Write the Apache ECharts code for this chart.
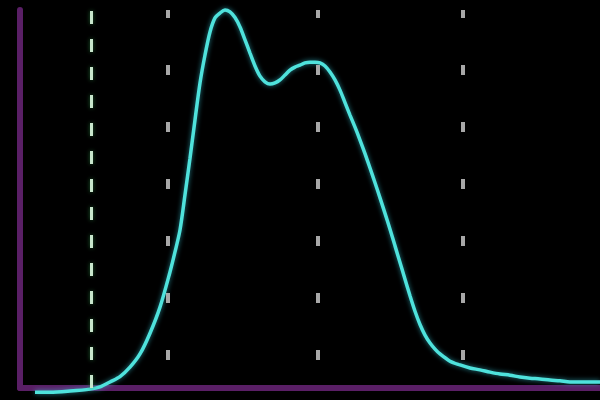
<!DOCTYPE html>
<html>
<head>
<meta charset="utf-8">
<script src="https://cdn.jsdelivr.net/npm/echarts@6/dist/echarts.min.js"></script>
<style>html,body{margin:0;padding:0;background:#000;}#c{width:600px;height:400px;}</style>
</head>
<body>
<div id="c"></div>
<script>
// x positions (bins) and curve intensity (0-100)
const bins = [3,6,10,14,16,18,20,22,24,26,28,30,31,32,33,34,35,36,37,38,39,40,41,42,43,44,45,46,47,48,49,50,51,52,53,54,55,56,57,58,59,60,61,62,63,64,65,66,67,68,69,70,71,72,73,74,75,76,77,78,79,80,81,82,83,84,86,88,90,92,94,96,98,100,102,104,106,108,110,112,114,116];
const intensity = [-1.1,-1.1,-0.8,-0.3,0.3,1.6,3.0,5.5,9.0,14.5,21.4,30.7,36.0,41.8,51.1,60.8,70.9,80.7,88.1,94.2,97.9,99.2,100,99.5,98.0,95.5,92.1,88.6,85.2,82.5,81.0,80.4,80.7,81.5,82.8,84.1,84.9,85.4,86.0,86.2,86.2,86.0,85.2,83.6,81.5,78.8,75.5,72.2,69.0,65.6,62.0,58.2,54.3,50.3,46.2,42.0,37.6,33.2,28.8,24.4,20.3,16.8,14.0,11.9,10.3,9.0,7.1,6.1,5.3,4.8,4.2,3.7,3.4,2.9,2.6,2.4,2.1,1.9,1.6,1.6,1.6,1.6];
const markerGreen = [14.2];
const markerGray = [29.6, 59.6, 88.6];

const chart = echarts.init(document.getElementById('c'));
chart.setOption({
  backgroundColor: '#000',
  animation: false,
  grid: {left: 20, right: 0, top: 10, bottom: 12},
  xAxis: {
    type: 'value', min: 0, max: 116,
    axisLine: {show: true, lineStyle: {color: '#5a1f66', width: 6}},
    axisTick: {show: false}, axisLabel: {show: false}, splitLine: {show: false}
  },
  yAxis: {
    type: 'value', min: 0, max: 100,
    axisLine: {show: true, lineStyle: {color: '#5a1f66', width: 6}},
    axisTick: {show: false}, axisLabel: {show: false}, splitLine: {show: false}
  },
  series: [
    {
      type: 'line',
      data: bins.map((b, i) => [b, intensity[i]]),
      showSymbol: false,
      smooth: 0.3,
      clip: false,
      lineStyle: {color: '#4fe2dc', width: 3.5, shadowColor: 'rgba(60,210,230,0.6)', shadowBlur: 5},
      markLine: {
        silent: true,
        symbol: 'none',
        label: {show: false},
        data: [
          ...markerGreen.map(v => ({xAxis: v, lineStyle: {color: '#c8e6cc', width: 3, type: [13, 15], shadowColor: 'rgba(40,120,60,0.8)', shadowBlur: 4}})),
          ...markerGray.map(v => ({xAxis: v, lineStyle: {color: '#a8a8a8', width: 4, type: [10, 47], dashOffset: 29}}))
        ]
      }
    }
  ]
});
</script>
</body>
</html>
